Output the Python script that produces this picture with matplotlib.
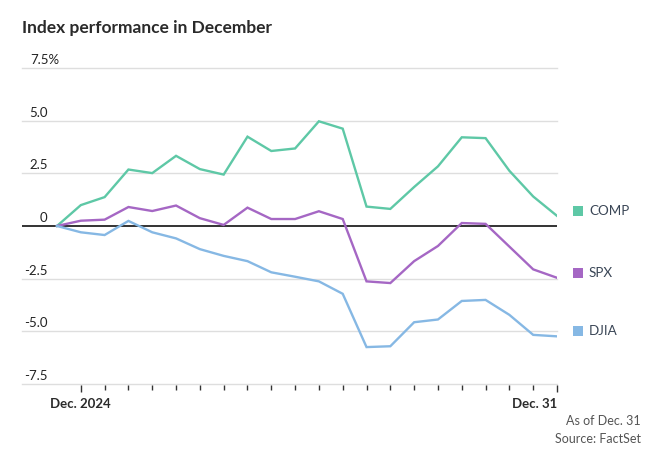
import matplotlib
matplotlib.use("Agg")
import matplotlib.pyplot as plt
import matplotlib.transforms as mtransforms

plt.rcParams['font.family'] = ['Lato', 'DejaVu Sans']

# Nov. 29 baseline + 21 trading days in December 2024
days = list(range(22))
comp = [0, 0.99, 1.37, 2.68, 2.51, 3.33, 2.70, 2.44, 4.24, 3.56, 3.68, 4.97,
        4.62, 0.92, 0.81, 1.85, 2.83, 4.21, 4.17, 2.62, 1.40, 0.48]
spx = [0, 0.25, 0.30, 0.90, 0.71, 0.97, 0.37, 0.05, 0.87, 0.33, 0.33, 0.70,
       0.33, -2.63, -2.71, -1.67, -0.95, 0.14, 0.10, -0.98, -2.06, -2.46]
djia = [0, -0.30, -0.43, 0.24, -0.30, -0.59, -1.10, -1.42, -1.67, -2.20, -2.41,
        -2.63, -3.22, -5.75, -5.71, -4.57, -4.44, -3.56, -3.51, -4.22, -5.17, -5.24]

series = [("COMP", comp, "#5ec8a6"), ("SPX", spx, "#a567c4"), ("DJIA", djia, "#86b8e4")]
yticks = [7.5, 5.0, 2.5, 0, -2.5, -5.0, -7.5]
ytick_labels = ["7.5%", "5.0", "2.5", "0", "-2.5", "-5.0", "-7.5"]
xlabels = {1: "Dec. 2024", 21: "Dec. 31"}

W, H = 655, 471
fig = plt.figure(figsize=(W / 100, H / 100), dpi=100)
ax = fig.add_axes([22 / W, 1 - 385 / H, 535 / W, 317 / H])

ax.set_xlim(-1.47, 21)
ax.set_ylim(-7.55, 7.5)
for s in ax.spines.values():
    s.set_visible(False)

# gridlines
for v in yticks:
    if v == 0:
        continue
    ax.axhline(v, color="#dedede", lw=1.0, zorder=1, clip_on=False)
ax.axhline(0, color="#111111", lw=1.2, zorder=3)

for name, vals, col in series:
    ax.plot(days, vals, color=col, lw=1.7, zorder=4, solid_joinstyle="miter")

# x ticks
ax.set_yticks([])
ax.set_xticks([1, 21])
ax.set_xticks(list(range(2, 21)), minor=True)
ax.tick_params(axis="x", which="major", length=5, width=1, color="#333333", pad=4)
ax.tick_params(axis="x", which="minor", length=3.5, width=1, color="#333333")
ax.set_xticklabels([xlabels[1], xlabels[21]], fontsize=9.5, fontweight="bold", color="#2b2b2b")
tl = ax.get_xticklabels()
tl[1].set_ha("right")
tl[1].set_transform(tl[1].get_transform() + mtransforms.ScaledTranslation(0.5 / 72, 0, fig.dpi_scale_trans))

# y labels above gridlines
ytrans = mtransforms.blended_transform_factory(fig.transFigure, ax.transData)
ytrans_up = mtransforms.offset_copy(ytrans, fig=fig, y=4, units="dots")
for v, lab in zip(yticks, ytick_labels):
    if lab.endswith("%"):
        ax.text(30 / W, v, lab, transform=ytrans_up, ha="left", va="baseline",
                fontsize=9.5, color="#222222")
    else:
        ax.text(47.5 / W, v, lab, transform=ytrans_up, ha="right", va="baseline",
                fontsize=9.5, color="#222222")

# end labels
lab_trans = mtransforms.offset_copy(ytrans, fig=fig, y=5, units="dots")
for name, vals, col in series:
    ax.plot([577.5 / W], [vals[-1]], marker="s", ms=6.5, color=col, mew=0,
            transform=lab_trans, clip_on=False)
    ax.text(589 / W, vals[-1], name, transform=lab_trans, ha="left", va="center",
            fontsize=9.7, color="#3a4656")

fig.text(22 / W, 1 - 28 / H, "Index performance in December", ha="left", va="center",
         fontsize=12.5, fontweight="bold", color="#2a2a2a")
fig.text(641 / W, 1 - 421 / H, "As of Dec. 31", ha="right", va="center",
         fontsize=9, color="#555555")
fig.text(641 / W, 1 - 439 / H, "Source: FactSet", ha="right", va="center",
         fontsize=9, color="#555555")

fig.savefig("out.png", dpi=100)
